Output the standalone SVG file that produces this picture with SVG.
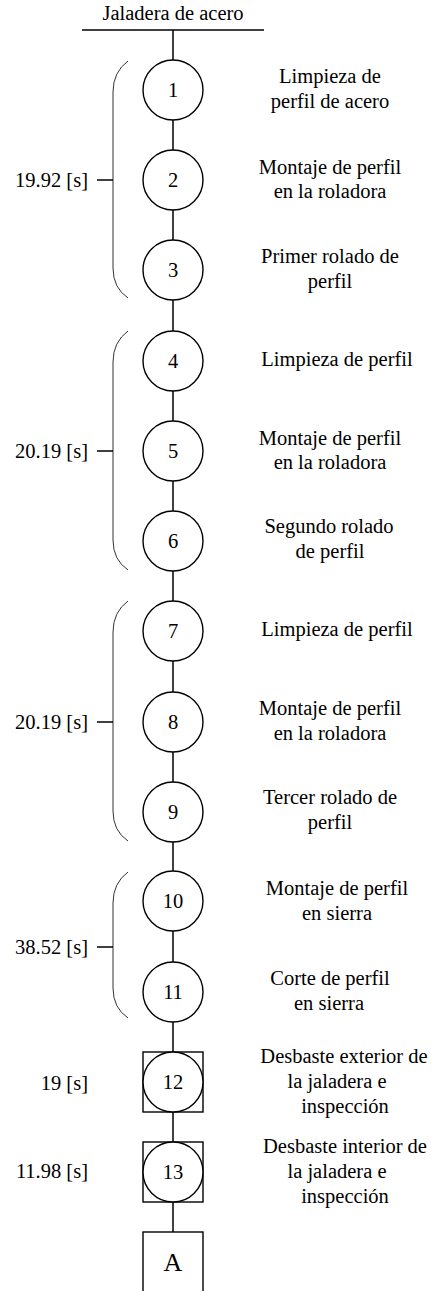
<svg xmlns="http://www.w3.org/2000/svg" width="440" height="1291" viewBox="0 0 440 1291" font-family="'Liberation Serif', 'DejaVu Serif', serif">
<style>
text{font-family:'Liberation Serif','DejaVu Serif',serif;font-size:20.5px;fill:#000}
.c{text-anchor:middle}
.l{text-anchor:end}
.node circle,.node rect{fill:#fff;stroke:#000;stroke-width:1.4}
.conn line{stroke:#000;stroke-width:1.5}
.brace{fill:none;stroke:#333;stroke-width:1}
.tick{stroke:#000;stroke-width:1.5}
</style>
<rect width="440" height="1291" fill="#fff"/>
<g id="title">
<text class="c" x="173" y="20">Jaladera de acero</text>
<line x1="82" y1="30" x2="264" y2="30" stroke="#000" stroke-width="1.5"/>
</g>
<g id="connectors" class="conn">
<line x1="173" y1="30" x2="173" y2="60"/>
<line x1="173" y1="120" x2="173" y2="150"/>
<line x1="173" y1="210" x2="173" y2="240"/>
<line x1="173" y1="300" x2="173" y2="331"/>
<line x1="173" y1="391" x2="173" y2="421"/>
<line x1="173" y1="481" x2="173" y2="511"/>
<line x1="173" y1="571" x2="173" y2="601"/>
<line x1="173" y1="661" x2="173" y2="692"/>
<line x1="173" y1="752" x2="173" y2="782"/>
<line x1="173" y1="842" x2="173" y2="871"/>
<line x1="173" y1="931" x2="173" y2="962"/>
<line x1="173" y1="1022" x2="173" y2="1052"/>
<line x1="173" y1="1112" x2="173" y2="1142"/>
<line x1="173" y1="1202" x2="173" y2="1232"/>
</g>
<g id="group1">
<path class="brace" d="M128,61 Q113,72 113,92 L113,268 Q113,288 128,298"/>
<line class="tick" x1="97" y1="180" x2="113" y2="180"/>
<text class="l" x="88" y="187">19.92 [s]</text>
</g>
<g id="group2">
<path class="brace" d="M128,331 Q113,342 113,362 L113,540 Q113,560 128,570"/>
<line class="tick" x1="97" y1="451" x2="113" y2="451"/>
<text class="l" x="88" y="458">20.19 [s]</text>
</g>
<g id="group3">
<path class="brace" d="M128,601 Q113,612 113,632 L113,811 Q113,831 128,841"/>
<line class="tick" x1="97" y1="722" x2="113" y2="722"/>
<text class="l" x="88" y="729">20.19 [s]</text>
</g>
<g id="group4">
<path class="brace" d="M128,872 Q113,883 113,903 L113,988 Q113,1008 128,1018"/>
<line class="tick" x1="97" y1="947" x2="113" y2="947"/>
<text class="l" x="88" y="954">38.52 [s]</text>
</g>
<g id="node1" class="node"><circle cx="173" cy="90" r="30"/><text class="c" x="173" y="97">1</text>
<text class="c" x="330" y="83">Limpieza de</text><text class="c" x="330" y="108">perfil de acero</text></g>
<g id="node2" class="node"><circle cx="173" cy="180" r="30"/><text class="c" x="173" y="187">2</text>
<text class="c" x="330" y="174">Montaje de perfil</text><text class="c" x="330" y="198">en la roladora</text></g>
<g id="node3" class="node"><circle cx="173" cy="270" r="30"/><text class="c" x="173" y="277">3</text>
<text class="c" x="330" y="263">Primer rolado de</text><text class="c" x="330" y="288">perfil</text></g>
<g id="node4" class="node"><circle cx="173" cy="361" r="30"/><text class="c" x="173" y="368">4</text>
<text class="c" x="337" y="366">Limpieza de perfil</text></g>
<g id="node5" class="node"><circle cx="173" cy="451" r="30"/><text class="c" x="173" y="458">5</text>
<text class="c" x="330" y="445">Montaje de perfil</text><text class="c" x="330" y="469">en la roladora</text></g>
<g id="node6" class="node"><circle cx="173" cy="541" r="30"/><text class="c" x="173" y="548">6</text>
<text class="c" x="329" y="533">Segundo rolado</text><text class="c" x="330" y="558">de perfil</text></g>
<g id="node7" class="node"><circle cx="173" cy="631" r="30"/><text class="c" x="173" y="638">7</text>
<text class="c" x="337" y="636">Limpieza de perfil</text></g>
<g id="node8" class="node"><circle cx="173" cy="722" r="30"/><text class="c" x="173" y="729">8</text>
<text class="c" x="330" y="715">Montaje de perfil</text><text class="c" x="330" y="740">en la roladora</text></g>
<g id="node9" class="node"><circle cx="173" cy="812" r="30"/><text class="c" x="173" y="819">9</text>
<text class="c" x="330" y="804">Tercer rolado de</text><text class="c" x="330" y="829">perfil</text></g>
<g id="node10" class="node"><circle cx="173" cy="901" r="30"/><text class="c" x="173" y="908">10</text>
<text class="c" x="337" y="895">Montaje de perfil</text><text class="c" x="337" y="920">en sierra</text></g>
<g id="node11" class="node"><circle cx="173" cy="992" r="30"/><text class="c" x="173" y="999">11</text>
<text class="c" x="330" y="985">Corte de perfil</text><text class="c" x="329" y="1010">en sierra</text></g>
<g id="node12" class="node"><rect x="143" y="1052" width="60" height="60"/><circle cx="173" cy="1082" r="30"/><text class="c" x="173" y="1089">12</text>
<text class="c" x="344" y="1063">Desbaste exterior de</text><text class="c" x="337" y="1088">la jaladera e</text><text class="c" x="345" y="1113">inspección</text></g>
<g id="label12"><text class="l" x="88" y="1090">19 [s]</text></g>
<g id="node13" class="node"><rect x="143" y="1142" width="60" height="60"/><circle cx="173" cy="1172" r="30"/><text class="c" x="173" y="1179">13</text>
<text class="c" x="345" y="1153">Desbaste interior de</text><text class="c" x="337" y="1178">la jaladera e</text><text class="c" x="345" y="1203">inspección</text></g>
<g id="label13"><text class="l" x="88" y="1178">11.98 [s]</text></g>
<g id="nodeA" class="node"><rect x="143" y="1232" width="60" height="70"/><text class="c" x="173" y="1271" style="font-size:26px">A</text></g>
</svg>
